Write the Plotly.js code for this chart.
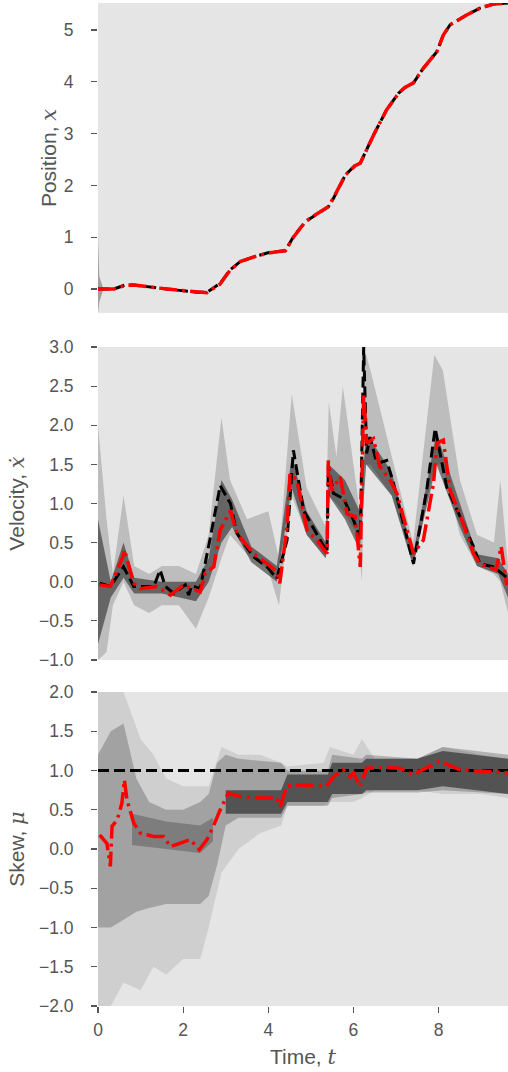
<!DOCTYPE html>
<html>
<head>
<meta charset="utf-8">
<script src="https://cdn.plot.ly/plotly-3.0.1.min.js"></script>
<style>html,body{margin:0;padding:0;background:#fff;}#chart{width:508px;height:1072px;}</style>
</head>
<body>
<div id="chart"></div>
<script>
// ---------- Position panel ----------
const pos_t = [0,0.37,0.64,0.84,1.62,2.32,2.56,2.87,3.10,3.34,3.73,4.04,4.40,4.59,4.87,5.10,5.41,5.53,5.81,6.04,6.16,6.47,6.78,7.06,7.21,7.41,7.64,7.96,8.11,8.27,8.66,8.97,9.29,9.63];
const pos_true = [0,0,0.08,0.08,0.0,-0.06,-0.06,0.11,0.37,0.53,0.64,0.71,0.74,1.01,1.30,1.43,1.59,1.75,2.20,2.39,2.43,2.97,3.46,3.78,3.89,3.98,4.26,4.58,4.90,5.10,5.29,5.42,5.50,5.52];
const pos_est  = [0,0,0.07,0.08,0.0,-0.06,-0.07,0.10,0.36,0.53,0.64,0.70,0.74,1.00,1.30,1.43,1.59,1.76,2.20,2.38,2.43,2.97,3.46,3.78,3.89,3.98,4.26,4.58,4.90,5.10,5.29,5.42,5.50,5.52];
const pos_band_t  = [0,0.03,0.12];
const pos_band_hi = [1.05,0.25,0.02];
const pos_band_lo = [-0.46,-0.25,-0.02];

// ---------- Velocity panel ----------
const vel_true_t = [0.04,0.29,0.60,0.84,1.31,1.46,1.58,1.78,2.05,2.13,2.20,2.40,2.64,2.87,3.11,3.26,3.65,3.97,4.20,4.44,4.59,4.83,5.22,5.38,5.41,5.53,5.77,6.00,6.16,6.24,6.31,6.39,6.55,6.78,6.94,7.41,7.72,7.92,8.19,8.51,8.82,8.97,9.29,9.52,9.63];
const vel_true   = [-0.02,-0.06,0.19,-0.06,-0.06,0.15,-0.06,-0.15,-0.04,-0.17,-0.05,-0.09,0.57,1.23,1.00,0.62,0.32,0.19,0.04,0.53,1.68,0.91,0.53,0.38,1.49,1.13,1.06,0.79,0.55,3.0,1.64,1.85,1.51,1.55,1.26,0.23,1.17,1.96,1.21,0.83,0.45,0.23,0.19,0.09,0.04];
const vel_est_t = [0.04,0.29,0.60,0.62,0.84,0.99,1.38,1.70,2.01,2.40,2.52,2.72,2.87,3.11,3.26,3.65,3.97,4.20,4.27,4.44,4.51,4.67,4.91,5.14,5.38,5.41,5.49,5.69,5.85,6.04,6.16,6.24,6.31,6.47,6.62,6.86,7.02,7.41,7.64,7.88,7.96,8.11,8.27,8.58,8.82,8.97,9.35,9.47,9.60];
const vel_est   = [-0.04,-0.06,0.34,0.41,-0.02,-0.09,-0.06,-0.17,-0.04,-0.13,0.11,0.19,0.66,0.91,0.62,0.36,0.23,0.13,-0.02,0.70,1.38,1.30,0.66,0.53,0.36,1.55,1.17,1.34,0.87,0.83,0.19,2.40,1.77,1.83,1.47,1.30,1.13,0.36,0.53,1.26,1.77,1.81,1.17,0.74,0.36,0.23,0.15,0.45,-0.04];
const vel_outer_t  = [0,0.2,0.35,0.6,0.85,1.2,1.5,1.9,2.3,2.6,2.9,3.1,3.5,4.0,4.25,4.55,4.9,5.35,5.42,5.6,5.75,6.1,6.2,6.25,6.4,6.9,7.4,7.9,8.1,8.5,8.9,9.3,9.45,9.63];
const vel_outer_hi = [2.0,0.8,0.1,1.1,0.2,0.1,0.2,0.2,0.1,0.6,2.1,1.3,0.8,0.9,0.3,2.4,1.2,0.7,2.3,1.6,2.5,1.1,0.5,3.0,2.7,1.6,0.5,2.9,2.7,1.3,0.6,0.5,1.3,0.2];
const vel_outer_lo = [-1.0,-0.9,-0.3,0.0,-0.3,-0.4,-0.3,-0.3,-0.6,-0.2,0.3,0.6,0.35,0.15,-0.3,1.1,0.6,0.3,1.1,1.0,0.9,0.6,0.0,1.5,1.5,1.1,0.2,1.5,1.5,0.6,0.2,0.1,0.0,-0.4];
const vel_inner_t  = [0,0.3,0.6,0.85,1.5,2.3,2.6,2.9,3.15,3.6,4.2,4.55,4.9,5.35,5.42,5.8,6.15,6.3,6.9,7.4,7.95,8.5,8.9,9.4,9.63];
const vel_inner_hi = [0.8,0.0,0.5,0.05,0.0,0.0,0.3,1.3,1.05,0.45,0.2,1.6,0.9,0.5,1.5,1.3,0.9,1.9,1.4,0.35,1.9,1.0,0.35,0.3,0.1];
const vel_inner_lo = [-0.8,-0.2,0.05,-0.15,-0.15,-0.25,0.0,0.5,0.7,0.25,0.0,1.2,0.6,0.3,1.1,0.8,0.4,1.5,1.1,0.2,1.5,0.7,0.2,0.1,-0.2];

// ---------- Skew panel ----------
const skew_true_t = [0,9.63];
const skew_true   = [1.0,1.0];
const skew_est_t = [0.04,0.21,0.29,0.33,0.45,0.56,0.62,0.68,0.84,1.00,1.31,1.54,1.70,1.93,2.17,2.38,2.56,2.71,2.87,3.06,3.34,3.81,4.20,4.28,4.43,4.75,5.37,5.53,5.76,5.92,6.00,6.15,6.31,6.78,7.09,7.40,8.03,8.50,8.97,9.63];
const skew_est   = [0.18,0.07,-0.22,0.29,0.37,0.58,0.88,0.63,0.33,0.20,0.16,0.16,0.03,0.07,0.12,-0.01,0.12,0.29,0.50,0.71,0.67,0.65,0.65,0.54,0.80,0.82,0.80,0.92,1.01,0.92,0.97,0.80,1.03,1.04,1.03,0.95,1.12,1.01,0.99,0.97];
const skew_outer_t  = [0,0.3,0.6,1.0,1.3,1.6,2.0,2.4,2.6,2.9,3.3,3.8,4.3,4.45,5.3,5.45,6.0,6.2,6.5,7.5,8.1,9.0,9.63];
const skew_outer_hi = [2.0,2.0,2.0,1.4,1.2,0.9,0.8,0.8,0.8,1.3,1.2,1.2,1.1,1.05,1.1,1.3,1.2,1.4,1.15,1.15,1.3,1.2,1.15];
const skew_outer_lo = [-2.0,-2.0,-1.7,-1.8,-1.5,-1.6,-1.4,-1.4,-1.0,-0.3,0.0,0.2,0.3,0.55,0.55,0.6,0.6,0.65,0.75,0.75,0.7,0.7,0.65];
const skew_mid_t  = [0,0.3,0.6,0.9,1.2,1.6,2.0,2.4,2.6,2.8,3.0,3.3,4.3,4.45,5.4,5.5,6.2,6.3,7.5,8.1,9.63];
const skew_mid_hi = [1.2,1.5,1.6,0.9,0.6,0.5,0.5,0.6,0.7,1.1,1.2,1.15,1.1,1.0,1.0,1.2,1.15,1.2,1.15,1.3,1.2];
const skew_mid_lo = [-1.0,-1.0,-0.9,-0.8,-0.75,-0.7,-0.7,-0.7,-0.6,-0.2,0.3,0.4,0.4,0.55,0.55,0.65,0.7,0.72,0.72,0.75,0.7];
const skew_left_t  = [0.8,1.6,2.4,2.7];
const skew_left_hi = [0.45,0.35,0.3,0.4];
const skew_left_lo = [0.05,0.0,-0.05,0.1];
const skew_core_t  = [3.0,4.3,4.45,5.4,5.5,6.2,6.3,7.5,8.1,9.63];
const skew_core_hi = [0.75,0.75,0.95,0.95,1.1,1.1,1.15,1.15,1.25,1.15];
const skew_core_lo = [0.45,0.45,0.6,0.6,0.7,0.7,0.75,0.75,0.8,0.7];

// ---------- ticks ----------
const pos_ticks = [0,1,2,3,4,5];
const vel_ticks = [-1,-0.5,0,0.5,1,1.5,2,2.5,3];
const skew_ticks = [-2,-1.5,-1,-0.5,0,0.5,1,1.5,2];
const time_ticks = [0,2,4,6,8];

function fmt1(v){ return (v<0?'\u2212':'') + Math.abs(v).toFixed(1); }
function fmt0(v){ return (v<0?'\u2212':'') + Math.abs(v).toFixed(0); }

function band(t, hi, lo, xa, ya, color){
  return {x: t.concat(t.slice().reverse()), y: hi.concat(lo.slice().reverse()),
    xaxis: xa, yaxis: ya, type:'scatter', mode:'lines', fill:'toself',
    fillcolor: color, line:{width:0}, hoverinfo:'skip', showlegend:false};
}
function line(t, y, xa, ya, color, dash, w){
  return {x:t, y:y, xaxis:xa, yaxis:ya, type:'scatter', mode:'lines',
    line:{color:color, width:w, dash:dash}, showlegend:false};
}
const DASH = '11px,5px';
const DASHDOT = '18px,5px,3px,5px';

const data = [
  band(pos_band_t, pos_band_hi, pos_band_lo, 'x', 'y', 'rgba(90,90,90,0.5)'),
  line(pos_t, pos_true, 'x', 'y', '#000', DASH, 3),
  line(pos_t, pos_est, 'x', 'y', '#ff0000', DASHDOT, 3.5),

  band(vel_outer_t, vel_outer_hi, vel_outer_lo, 'x2', 'y2', 'rgba(70,70,70,0.25)'),
  band(vel_inner_t, vel_inner_hi, vel_inner_lo, 'x2', 'y2', 'rgba(30,30,30,0.55)'),
  line(vel_true_t, vel_true, 'x2', 'y2', '#000', DASH, 3),
  line(vel_est_t, vel_est, 'x2', 'y2', '#ff0000', DASHDOT, 3.5),

  band(skew_outer_t, skew_outer_hi, skew_outer_lo, 'x3', 'y3', 'rgba(80,80,80,0.15)'),
  band(skew_mid_t, skew_mid_hi, skew_mid_lo, 'x3', 'y3', 'rgba(60,60,60,0.3)'),
  band(skew_left_t, skew_left_hi, skew_left_lo, 'x3', 'y3', 'rgba(40,40,40,0.3)'),
  band(skew_core_t, skew_core_hi, skew_core_lo, 'x3', 'y3', 'rgba(30,30,30,0.6)'),
  line(skew_true_t, skew_true, 'x3', 'y3', '#000', DASH, 3),
  line(skew_est_t, skew_est, 'x3', 'y3', '#ff0000', DASHDOT, 3.5)
];

const FONT = 'Liberation Sans, Arial, Helvetica, sans-serif';
const GREY = '#555555';
const tickFont = {family: FONT, size: 17.5, color: GREY};
const titleFont = {family: FONT, size: 21, color: GREY};
const mathSpan = s => '<span style="font-family:DejaVu Serif"><i>' + s + '</i></span>';

function yax(range, ticks, fmt, domain, title, standoff){
  return {range: range, domain: domain, tickvals: ticks, ticktext: ticks.map(fmt),
    ticks:'outside', ticklen:6, tickwidth:1.2, tickcolor: GREY, tickfont: tickFont,
    ticklabelstandoff: 14, showgrid:false, zeroline:false, showline:false,
    title:{text: title, font: titleFont, standoff: standoff}, fixedrange:true};
}
function xax(anchor, show){
  const a = {range:[0,9.63], anchor: anchor, showgrid:false, zeroline:false, showline:false,
    domain:[0,1], fixedrange:true};
  if (show){
    a.tickvals = time_ticks; a.ticktext = time_ticks.map(fmt0);
    a.ticks = 'outside'; a.ticklen = 6; a.tickwidth = 1.2; a.tickcolor = GREY;
    a.tickfont = tickFont; a.ticklabelstandoff = 2;
    a.title = {text: 'Time, ' + mathSpan('t'), font: titleFont, standoff: 10};
  } else {
    a.showticklabels = false; a.ticks = '';
  }
  return a;
}

const layout = {
  width: 508, height: 1072,
  margin: {l: 98, r: 0, t: 3, b: 66},
  paper_bgcolor: '#ffffff', plot_bgcolor: '#e5e5e5',
  showlegend: false,
  xaxis: xax('y', false),
  xaxis2: xax('y2', false),
  xaxis3: xax('y3', true),
  yaxis: yax([-0.46, 5.52], pos_ticks, fmt0, [0.691, 1.0], 'Position, ' + mathSpan('x'), 1),
  yaxis2: yax([-1, 3], vel_ticks, fmt1, [0.345, 0.657], 'Velocity, ' + mathSpan('\u1E8B'), 8),
  yaxis3: yax([-2, 2], skew_ticks, fmt1, [0, 0.313], 'Skew, ' + mathSpan('\u03BC'), 8)
};

Plotly.newPlot('chart', data, layout, {displayModeBar:false, staticPlot:true});
</script>
</body>
</html>
